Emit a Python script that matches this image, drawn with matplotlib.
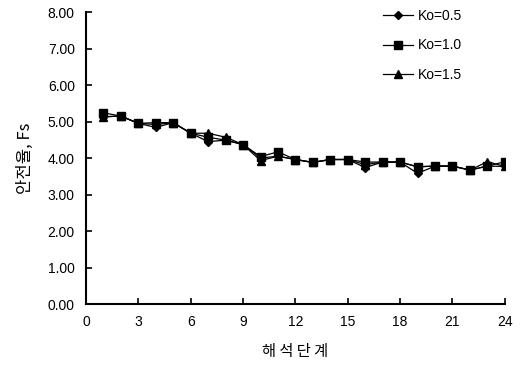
import matplotlib
matplotlib.use("Agg")
import matplotlib.pyplot as plt
from matplotlib.ticker import FormatStrFormatter

steps = list(range(1, 25))
ko05 = [5.13, 5.15, 4.95, 4.84, 4.97, 4.68, 4.45, 4.49, 4.37, 4.00, 4.05, 3.96,
        3.88, 3.96, 3.96, 3.74, 3.89, 3.89, 3.58, 3.78, 3.78, 3.67, 3.78, 3.77]
ko10 = [5.24, 5.15, 4.95, 4.97, 4.97, 4.68, 4.57, 4.49, 4.37, 4.04, 4.17, 3.96,
        3.88, 3.96, 3.96, 3.89, 3.89, 3.89, 3.76, 3.78, 3.78, 3.67, 3.78, 3.90]
ko15 = [5.13, 5.15, 4.95, 4.92, 4.97, 4.68, 4.68, 4.57, 4.37, 3.93, 4.05, 3.96,
        3.88, 3.96, 3.96, 3.82, 3.89, 3.89, 3.76, 3.78, 3.78, 3.67, 3.90, 3.77]
labels = ["Ko=0.5", "Ko=1.0", "Ko=1.5"]
xticks = list(range(0, 25, 3))
yticks = [0, 1, 2, 3, 4, 5, 6, 7, 8]

plt.rcParams['font.family'] = ['Liberation Sans', 'Noto Sans CJK KR', 'DejaVu Sans']

fig = plt.figure(figsize=(5.21, 3.65), dpi=100)
ax = fig.add_axes([0.165, 0.167, 0.804, 0.80])

ax.plot(steps, ko05, color='black', lw=0.9, marker='D', ms=4.5, label=labels[0])
ax.plot(steps, ko10, color='black', lw=0.9, marker='s', ms=5.5, label=labels[1])
ax.plot(steps, ko15, color='black', lw=0.9, marker='^', ms=5.5, label=labels[2])

ax.set_xlim(0, 24)
ax.set_ylim(0, 8)
ax.set_xticks(xticks)
ax.set_yticks(yticks)
ax.yaxis.set_major_formatter(FormatStrFormatter('%.2f'))
for s in ['top', 'right']:
    ax.spines[s].set_visible(False)
for s in ['left', 'bottom']:
    ax.spines[s].set_linewidth(1.5)
ax.tick_params(direction='in', length=4, width=1.2, labelsize=10, pad=8)

ax.set_xlabel("해 석 단 계", family=['Noto Sans CJK KR'], fontsize=11, labelpad=10)
ax.set_ylabel("안전율, Fs", family=['Noto Sans CJK KR', 'Liberation Sans'], fontsize=12, labelpad=10)

leg = ax.legend(loc='upper left', bbox_to_anchor=(0.709, 1.01), frameon=False, fontsize=10,
                borderpad=0, borderaxespad=0, handlelength=2.15, labelspacing=1.1,
                handletextpad=0.36)

fig.savefig("out.png", dpi=100)
